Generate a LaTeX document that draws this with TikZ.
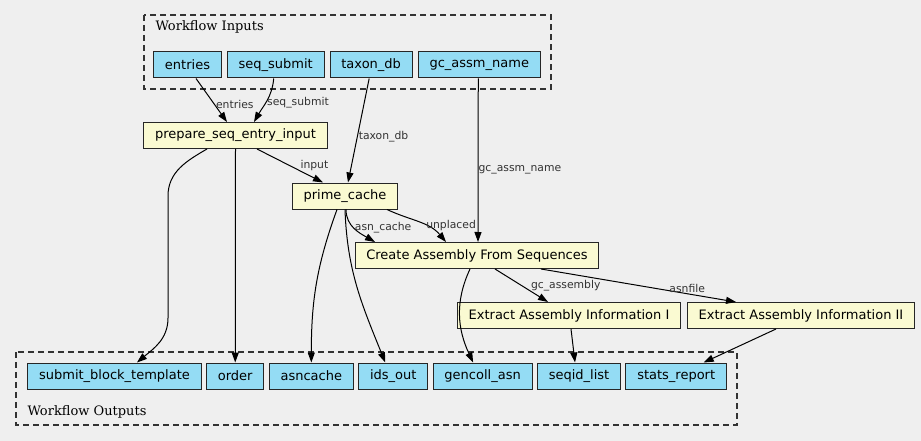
\documentclass[tikz,border=0pt]{standalone}
\usepackage{fontspec}
\setmainfont{DejaVu Serif}
\setsansfont{DejaVu Sans}
\usepackage{xcolor}
\usepackage{tikz}
\usetikzlibrary{positioning, arrows.meta, backgrounds}
\definecolor{ioblue}{HTML}{94DCF4}
\definecolor{taskyellow}{HTML}{FAFAD2}
\definecolor{bggray}{HTML}{EFEFEF}
\definecolor{labelgray}{HTML}{333333}
\tikzstyle{io}=[%
      rectangle, draw=black!85, line width=1pt, fill=ioblue,
      font=\sffamily\fontsize{13}{15}\selectfont, minimum height=26pt, inner xsep=11.3pt, inner ysep=0pt
]
\tikzstyle{task}=[%
      rectangle, draw=black!85, line width=1pt, fill=taskyellow,
      font=\sffamily\fontsize{13}{15}\selectfont, minimum height=26pt, inner xsep=11.3pt, inner ysep=0pt
]
\tikzstyle{cluster}=[%
      -, draw=black!80, line width=1.2pt, dash pattern=on 6pt off 4pt
]
\tikzstyle{cl}=[%
      font=\rmfamily\fontsize{13}{15}\selectfont, anchor=west, inner sep=0pt
]
\tikzstyle{lbl}=[%
      font=\sffamily\fontsize{10.8}{12}\selectfont, text=labelgray, inner sep=1pt
]

\begin{document}
\begin{tikzpicture}[x=1pt, y=-1pt,
    ->,
    >={Triangle[length=10pt,width=7pt]},
    line width=1pt,
    node distance=5pt
  ]
    \fill[bggray] (0,0) rectangle (921,441);
    \useasboundingbox (0,0) rectangle (921,441);

    % clusters
    \draw[cluster] (144,15) rectangle (551,89);
    \node[cl] (inlabel) at (155,27) {Workflow Inputs};
    \draw[cluster] (16,352) rectangle (737,425);
    \node[cl] (outlabel) at (27,412) {Workflow Outputs};

    \node[io]   (entries)     at (187.5,65)          {entries};
    \node[io]   (seqsubmit)   [right = of entries]   {seq\_submit};
    \node[io]   (taxondb)     [right = of seqsubmit] {taxon\_db};
    \node[io]   (gcassm)      [right = of taxondb]   {gc\_assm\_name};

    \node[task] (prepare)     at (235.5,135.5) {prepare\_seq\_entry\_input};
    \node[task] (primecache)  at (345,196)     {prime\_cache};
    \node[task] (create)      at (477,255.5)   {Create Assembly From Sequences};
    \node[task] (extractI)    at (569,315.5)   {Extract Assembly Information I};
    \node[task] (extractII)   at (801,315.5)   {Extract Assembly Information II};

    \node[io]   (submitblock) at (114.5,376)              {submit\_block\_template};
    \node[io]   (order)       [right = 4.4pt of submitblock] {order};
    \node[io]   (asncache)    [right = 4.4pt of order]       {asncache};
    \node[io]   (idsout)      [right = 4.4pt of asncache]    {ids\_out};
    \node[io]   (gencoll)     [right = 4.4pt of idsout]      {gencoll\_asn};
    \node[io]   (seqidlist)   [right = 4.4pt of gencoll]     {seqid\_list};
    \node[io]   (statsreport) [right = 4.4pt of seqidlist]   {stats\_report};

    \path ([xshift=8.5pt]entries.south) edge node[lbl, right, pos=.6] {entries} ([xshift=-8.5pt]prepare.north)
          ([xshift=-2pt]seqsubmit.south) edge[out=-95, in=60] node[lbl, right, pos=.55] {seq\_submit} ([xshift=18.5pt]prepare.north)
          ([xshift=-2pt]taxondb.south) edge node[lbl, right, pos=.56] {taxon\_db} ([xshift=3pt]primecache.north)
          ([xshift=-1pt]gcassm.south) edge node[lbl, right, pos=.56, inner sep=0pt] {gc\_assm\_name} ([xshift=1pt]create.north)
          ([xshift=21.5pt]prepare.south) edge node[lbl, right=9pt, pos=.5] {input} ([xshift=-22pt]primecache.north)
          (prepare.south) edge (order.north)
          ([xshift=-8pt]primecache.south) edge[out=-110, in=90] (asncache.north)
          (primecache.south) edge[out=-88, in=112] ([xshift=-8pt]idsout.north)
          ([xshift=1pt]primecache.south) edge[out=-90, in=150] node[lbl, right, pos=.45] {asn\_cache} ([xshift=-102pt]create.north)
          ([xshift=42pt]primecache.south) edge[out=-25, in=130] node[lbl, right, pos=.6] {unplaced} ([xshift=-31pt]create.north)
          ([xshift=-7pt]create.south) edge[out=-115, in=115] ([xshift=-9.5pt]gencoll.north)
          ([xshift=18pt]create.south) edge node[lbl, right=8pt, pos=.5] {gc\_assembly} ([xshift=-21pt]extractI.north)
          ([xshift=64pt]create.south) edge node[lbl, above, pos=.75] {asnfile} ([xshift=-65pt]extractII.north)
          ([xshift=2pt]extractI.south) edge ([xshift=-4pt]seqidlist.north)
          ([xshift=-25pt]extractII.south) edge ([xshift=27.5pt]statsreport.north)
    ;
    \draw ([xshift=-28.5pt]prepare.south) to[out=-150, in=90] ++(-39,47) -- ++(0,122)
          to[out=-90, in=40] ([xshift=22.5pt]submitblock.north);

  \end{tikzpicture}
\end{document}
